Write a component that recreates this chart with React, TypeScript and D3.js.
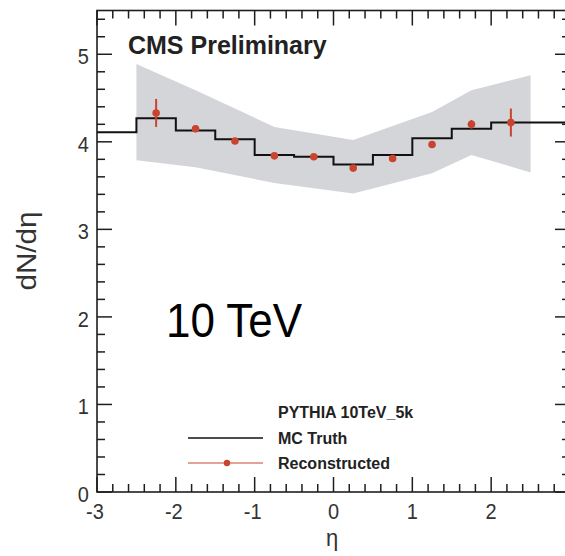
import React from "react";
import * as d3 from "d3";

const W = 565;
const H = 556;
const plot = { left: 97, right: 570, top: 10.5, bottom: 492 };

// MC truth histogram (bin edges and contents)
const binEdges = [-3, -2.5, -2, -1.5, -1, -0.5, 0, 0.5, 1, 1.5, 2, 2.5, 3];
const truthValues = [4.11, 4.27, 4.13, 4.03, 3.85, 3.83, 3.74, 3.85, 4.04, 4.15, 4.22, 4.22];

// reconstructed points
const recoEta = [-2.25, -1.75, -1.25, -0.75, -0.25, 0.25, 0.75, 1.25, 1.75, 2.25];
const recoValues = [4.33, 4.15, 4.01, 3.84, 3.83, 3.7, 3.81, 3.97, 4.2, 4.22];
const recoErrors = [0.16, 0.04, 0.03, 0.03, 0.03, 0.03, 0.03, 0.03, 0.05, 0.16];

// systematic band
const bandEta = [-2.5, -1.75, -0.75, 0.25, 1.25, 1.75, 2.5];
const bandUpper = [4.89, 4.59, 4.17, 4.02, 4.34, 4.59, 4.76];
const bandLower = [3.79, 3.71, 3.53, 3.41, 3.64, 3.85, 3.65];

const xTicks = [-3, -2, -1, 0, 1, 2, 3];
const yTicks = [0, 1, 2, 3, 4, 5];

const font = "'Liberation Sans', Arial, Helvetica, sans-serif";
const red = "#c9442e";
const ink = "#1e1e1e";

export default function App() {
  const x = d3.scaleLinear().domain([-3, 3]).range([plot.left, plot.right]);
  const y = d3.scaleLinear().domain([0, 5.5]).range([plot.bottom, plot.top]);

  const band = d3
    .area<number>()
    .x((_, i) => x(bandEta[i]))
    .y0((_, i) => y(bandLower[i]))
    .y1((_, i) => y(bandUpper[i]))(bandEta);

  const histPts: [number, number][] = binEdges.map((e, i) => [
    x(e),
    y(truthValues[Math.min(i, truthValues.length - 1)]),
  ]);
  const hist = d3.line().curve(d3.curveStepAfter)(histPts);

  const xMinor = d3.range(-3, 3.001, 0.2).map((v) => +v.toFixed(2));
  const yMinor = d3.range(0, 5.5, 0.2).map((v) => +v.toFixed(2));
  const isMajor = (v: number) => Math.abs(v - Math.round(v)) < 1e-6;

  const tk = (v: number) => (isMajor(v) ? 15 : 8);

  return (
    <>
      <style>{`body{margin:0}`}</style>
      <svg width={W} height={H} style={{ display: "block", background: "#fff" }}>
        <path d={band ?? ""} fill="#d4d5d8" />

        {/* frame */}
        <rect
          x={plot.left}
          y={plot.top}
          width={plot.right - plot.left}
          height={plot.bottom - plot.top}
          fill="none"
          stroke={ink}
          strokeWidth={1.6}
        />

        {/* x ticks bottom + top */}
        {xMinor.map((v) => (
          <g key={"xt" + v} stroke={ink} strokeWidth={1.5}>
            <line x1={x(v)} x2={x(v)} y1={plot.bottom} y2={plot.bottom - tk(v)} />
            <line x1={x(v)} x2={x(v)} y1={plot.top} y2={plot.top + tk(v)} />
          </g>
        ))}
        {/* y ticks left + right */}
        {yMinor.map((v) => (
          <g key={"yt" + v} stroke={ink} strokeWidth={1.5}>
            <line x1={plot.left} x2={plot.left + tk(v)} y1={y(v)} y2={y(v)} />
            <line x1={plot.right} x2={plot.right - tk(v)} y1={y(v)} y2={y(v)} />
          </g>
        ))}

        {/* tick labels */}
        {xTicks.map((v) => (
          <text
            key={"xl" + v}
            transform={`translate(${x(v) - (v < 0 ? 2 : 0)},519) scale(1,1.1)`}
            textAnchor="middle"
            fontFamily={font}
            fontSize={20}
            fill="#333"
          >
            {v}
          </text>
        ))}
        {yTicks.map((v) => (
          <text
            key={"yl" + v}
            transform={`translate(89,${y(v) + 10}) scale(1,1.1)`}
            textAnchor="end"
            fontFamily={font}
            fontSize={20}
            fill="#333"
          >
            {v}
          </text>
        ))}

        {/* axis titles */}
        <text
          transform="translate(36,251) scale(1,1.1) rotate(-90)"
          textAnchor="middle"
          fontFamily={font}
          fontSize={27}
          fill="#333"
        >
          dN/dη
        </text>
        <text
          transform="translate(332,546) scale(1,1.1)"
          textAnchor="middle"
          fontFamily={font}
          fontSize={22}
          fill="#333"
        >
          η
        </text>

        {/* MC truth histogram */}
        <path d={hist ?? ""} fill="none" stroke="#111" strokeWidth={2} />

        {/* reconstructed */}
        {recoEta.map((e, i) => (
          <g key={"r" + e}>
            <line
              x1={x(e)}
              x2={x(e)}
              y1={y(recoValues[i] - recoErrors[i])}
              y2={y(recoValues[i] + recoErrors[i])}
              stroke={red}
              strokeWidth={2}
            />
            <circle cx={x(e)} cy={y(recoValues[i])} r={3.8} fill={red} />
          </g>
        ))}

        <text
          transform="translate(128,54) scale(1,1.05)"
          fontFamily={font}
          fontWeight="bold"
          fontSize={25}
          fill="#222"
        >
          CMS Preliminary
        </text>

        <text
          transform="translate(166,336.5) scale(1,1.1)"
          fontFamily={font}
          fontSize={44}
          fill="#000"
        >
          10 TeV
        </text>

        {/* legend */}
        <g fontFamily={font} fontWeight="bold" fontSize={16} fill="#222">
          <text x={278} y={418}>PYTHIA 10TeV_5k</text>
          <line x1={188} x2={263} y1={438} y2={438} stroke="#111" strokeWidth={1.6} />
          <text x={278} y={444}>MC Truth</text>
          <line x1={188} x2={263} y1={463} y2={463} stroke={red} strokeWidth={1.2} />
          <circle cx={227} cy={463} r={3.2} fill={red} />
          <text x={278} y={469}>Reconstructed</text>
        </g>
      </svg>
    </>
  );
}
